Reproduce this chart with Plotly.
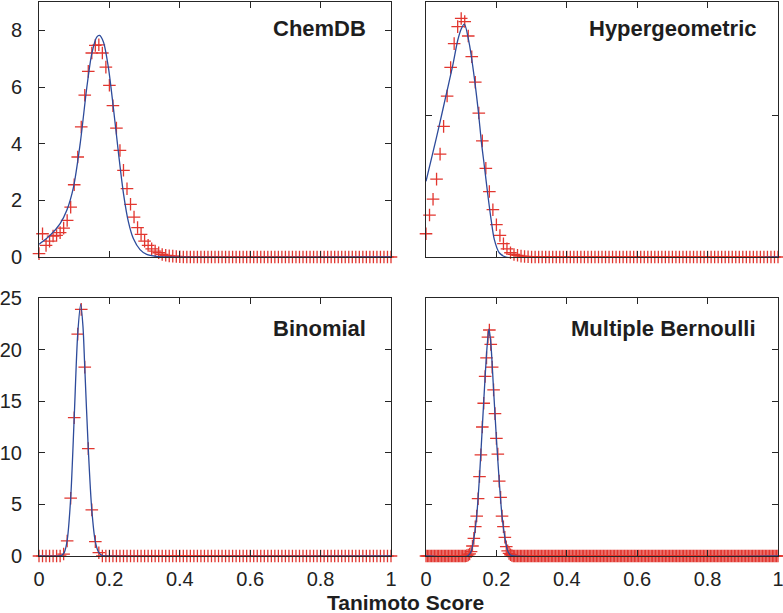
import numpy as np
import plotly.graph_objects as go

# ---------------- data ----------------
panel_titles = ["ChemDB", "Hypergeometric", "Binomial", "Multiple Bernoulli"]
x_tick_vals = [0, 0.2, 0.4, 0.6, 0.8, 1]
x_tick_text = ["0", "0.2", "0.4", "0.6", "0.8", "1"]

# ChemDB: empirical histogram (step 0.01) and fitted curve
chemdb_x = np.round(np.arange(0, 1.0001, 0.01), 4)
chemdb_y = [0.12, 0.82, 0.41, 0.56, 0.74, 0.76, 0.86, 1.02, 1.29, 1.76,
            2.55, 3.53, 4.59, 5.71, 6.55, 7.20, 7.47, 7.49, 7.20, 6.70,
            6.06, 5.34, 4.55, 3.76, 3.06, 2.41, 1.86, 1.41, 1.04, 0.80,
            0.56, 0.41, 0.29, 0.21, 0.15, 0.09, 0.06, 0.04, 0.03, 0.02,
            0.01] + [0.0] * 60
chemdb_fit_x = [0, 0.031, 0.06, 0.079, 0.098, 0.117, 0.136, 0.15, 0.164, 0.172,
                0.183, 0.197, 0.211, 0.226, 0.24, 0.254, 0.268, 0.287, 0.306,
                0.335, 0.363, 1.0]
chemdb_fit_y = [0.45, 0.76, 1.18, 1.65, 2.47, 4.0, 6.0, 7.18, 7.76, 7.82,
                7.59, 6.7, 5.3, 3.65, 2.24, 1.24, 0.65, 0.26, 0.09,
                0.02, 0.0, 0.0]

# Hypergeometric
hyper_x = np.round(np.arange(0, 1.0001, 0.01), 4)
hyper_y = [0.82, 1.48, 2.04, 2.75, 3.63, 4.61, 5.68, 6.69, 7.53, 8.13,
           8.42, 8.31, 7.80, 7.07, 6.17, 5.08, 4.10, 3.13, 2.31, 1.67,
           1.14, 0.76, 0.47, 0.29, 0.15, 0.09, 0.06, 0.03, 0.02, 0.01] + [0.0] * 71
hyper_fit_x = [0, 0.019, 0.038, 0.057, 0.076, 0.09, 0.1, 0.109, 0.123, 0.137,
               0.149, 0.157, 0.166, 0.175, 0.185, 0.194, 0.208, 0.227, 1.0]
hyper_fit_y = [2.67, 3.66, 4.66, 5.71, 6.76, 7.64, 8.05, 8.22, 7.52, 6.35,
               5.1, 4.1, 3.19, 2.26, 1.32, 0.62, 0.15, 0.0, 0.0]

# Binomial
binom_x = np.round(np.arange(0, 1.0001, 0.01), 4)
binom_y = [0.0] * 7 + [0.19, 1.46, 5.6, 13.4, 21.5, 23.9, 18.3, 10.4, 4.47,
                       1.39, 0.32] + [0.0] * 83
binom_fit_x = [0.0, 0.058, 0.066, 0.072, 0.08, 0.09, 0.1, 0.11, 0.1185, 0.125,
               0.13, 0.14, 0.15, 0.16, 0.17, 0.18, 0.19, 1.0]
binom_fit_y = [0.0, 0.0, 0.1, 0.35, 1.5, 5.6, 13.4, 21.5, 24.4, 22.2,
               18.3, 10.4, 4.47, 1.39, 0.32, 0.05, 0.0, 0.0]

# Multiple Bernoulli (step 0.004)
bern_x = np.round(np.arange(0, 1.0001, 0.004), 4)
bern_y = ([0.0] * 29 + [0.04, 0.1, 0.2, 0.42, 0.97, 1.71, 2.84, 3.87, 5.55,
                        7.7, 9.8, 12.5, 14.8, 17.4, 19.2, 21.2, 21.9, 20.5,
                        18.3, 16.1, 13.8, 11.4, 9.87, 7.26, 5.68, 3.87, 2.84,
                        1.81, 0.9, 0.5, 0.25, 0.12, 0.05])
bern_y = bern_y + [0.0] * (len(bern_x) - len(bern_y))
bern_fit_x = [0.0, 0.118, 0.128, 0.136, 0.144, 0.152, 0.16, 0.168, 0.174, 0.179,
              0.184, 0.192, 0.2, 0.208, 0.216, 0.224, 0.232, 0.24, 0.25, 1.0]
bern_fit_y = [0.0, 0.0, 0.42, 1.71, 3.87, 7.7, 12.5, 17.4, 20.5, 22.0,
              20.7, 16.1, 11.4, 7.26, 3.87, 1.81, 0.5, 0.1, 0.0, 0.0]

# ---------------- styling ----------------
RED = "#e2362f"
BLUE = "#2d4b9b"
AX = "#262626"
FONT = "Liberation Sans, Arial, Helvetica, sans-serif"

W, H = 783, 613
def px_x(a):
    return a / W
def px_y(a):
    return 1 - a / H

dom_x = [[px_x(39), px_x(391)], [px_x(426), px_x(778)]]
dom_y = [[px_y(257), px_y(2)], [px_y(556), px_y(298)]]

fig = go.Figure()

series = [
    (chemdb_x, chemdb_y, chemdb_fit_x, chemdb_fit_y, 9),
    (hyper_x, hyper_y, hyper_fit_x, hyper_fit_y, 9),
    (binom_x, binom_y, binom_fit_x, binom_fit_y, 9),
    (bern_x, bern_y, bern_fit_x, bern_fit_y, 9),
]

for i, (mx, my, fx, fy, msz) in enumerate(series):
    sfx = "" if i == 0 else str(i + 1)
    fig.add_trace(go.Scatter(
        x=mx, y=my, mode="markers", xaxis="x" + sfx, yaxis="y" + sfx,
        marker=dict(symbol="cross-thin", size=msz, color=RED,
                    line=dict(color=RED, width=1.3)),
        cliponaxis=False, showlegend=False, hoverinfo="skip"))
    fig.add_trace(go.Scatter(
        x=fx, y=fy, mode="lines", xaxis="x" + sfx, yaxis="y" + sfx,
        line=dict(color=BLUE, width=1.3, shape="spline", smoothing=0.8),
        showlegend=False, hoverinfo="skip"))

common = dict(showline=True, linecolor=AX, linewidth=1, mirror="ticks",
              ticks="inside", ticklen=6, tickcolor=AX, tickwidth=1,
              showgrid=False, zeroline=False, automargin=False,
              ticklabeloverflow="allow",
              tickfont=dict(family=FONT, size=20, color="#222"))

layout = dict(width=W, height=H,
              margin=dict(l=0, r=0, t=0, b=0, pad=0, autoexpand=False),
              paper_bgcolor="white", plot_bgcolor="white", showlegend=False)

for i in range(4):
    sfx = "" if i == 0 else str(i + 1)
    col = i % 2
    row = i // 2
    xa = dict(common, domain=dom_x[col], range=[0, 1], tickvals=x_tick_vals,
              ticktext=x_tick_text,
              showticklabels=(row == 1), anchor="y" + sfx, ticklabelstandoff=5)
    if row == 0:
        ya = dict(common, domain=dom_y[row], range=[0, 9],
                  dtick=2 if col == 0 else 5,
                  showticklabels=(col == 0), anchor="x" + sfx, ticklabelstandoff=12)
    else:
        ya = dict(common, domain=dom_y[row], range=[0, 25], dtick=5,
                  showticklabels=(col == 0), anchor="x" + sfx, ticklabelstandoff=12)
    layout["xaxis" + sfx] = xa
    layout["yaxis" + sfx] = ya

annotations = []
title_pos = [(368, 29), (759, 29), (368, 328), (758, 328)]
for t, (ax_, ay_) in zip(panel_titles, title_pos):
    annotations.append(dict(text="<b>%s</b>" % t, x=px_x(ax_), y=px_y(ay_),
                            xref="paper", yref="paper", xanchor="right",
                            yanchor="middle", showarrow=False,
                            font=dict(family=FONT, size=22, color="#1e1e1e")))
annotations.append(dict(text="<b>Tanimoto Score</b>", x=px_x(405), y=px_y(602),
                        xref="paper", yref="paper", xanchor="center",
                        yanchor="middle", showarrow=False,
                        font=dict(family=FONT, size=21, color="#1e1e1e")))
layout["annotations"] = annotations

fig.update_layout(**layout)
fig.write_html("out.html",
               config={"displayModeBar": False, "staticPlot": True},
               post_script="document.body.style.margin='0px';"
                           "document.body.style.overflow='hidden';")
